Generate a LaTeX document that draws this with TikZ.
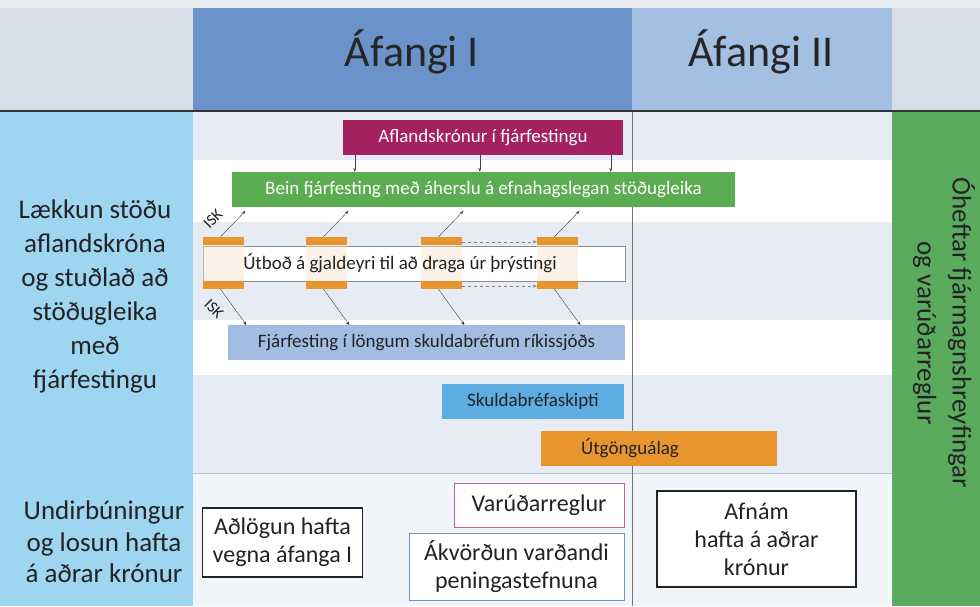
\documentclass[tikz,border=0pt]{standalone}
\usepackage{fontspec}
\setmainfont{Carlito}
\usetikzlibrary{arrows.meta, calc}
\definecolor{headblue}{RGB}{107,146,201}
\definecolor{headlight}{RGB}{163,191,226}
\definecolor{sidegray}{RGB}{216,222,233}
\definecolor{topgray}{RGB}{232,236,240}
\definecolor{skyblue}{RGB}{158,213,241}
\definecolor{sidegreen}{RGB}{90,171,94}
\definecolor{bandgray}{RGB}{231,235,243}
\definecolor{bottomgray}{RGB}{241,244,248}
\definecolor{linegray}{RGB}{180,192,218}
\definecolor{plum}{RGB}{163,33,95}
\definecolor{leafgreen}{RGB}{92,173,82}
\definecolor{paleblue}{RGB}{162,189,225}
\definecolor{swapblue}{RGB}{93,173,226}
\definecolor{ochre}{RGB}{232,149,46}
\definecolor{inkgray}{RGB}{35,35,35}

\begin{document}
\begin{tikzpicture}[x=1pt, y=-1pt,
    bar/.style={minimum height=35pt, inner sep=0pt, font=\fontsize{19}{22}\selectfont},
    bartext/.style={font=\fontsize{19}{22}\selectfont, text=inkgray},
    plainbox/.style={draw=inkgray, line width=1.2pt, fill=white, align=center, inner sep=0pt, text=inkgray, font=\fontsize{24}{28}\selectfont},
    side/.style={align=center, text=inkgray, font=\fontsize{27}{34}\selectfont},
    slot/.style={minimum width=41pt, minimum height=52pt, inner sep=0pt, fill=ochre!25, fill opacity=0.45},
    isk/.style={inner sep=0pt, text=inkgray, font=\fontsize{16}{18}\selectfont},
    arr/.style={-{Stealth[length=4pt,width=3pt]}, black!75, thin}]
    \useasboundingbox (0,0) rectangle (980,606);

    % Background and header row
    \fill[topgray] (0,0) rectangle (980,606);
    \fill[sidegray] (0,8) rectangle (193,110);
    \fill[headblue] (193,8) rectangle (632,110);
    \fill[headlight] (632,8) rectangle (892,110);
    \fill[sidegray] (892,8) rectangle (980,110);

    % Side columns
    \fill[skyblue] (0,112) rectangle (193,606);
    \fill[sidegreen] (892,112) rectangle (980,606);

    % Bands
    \fill[bandgray] (193,112) rectangle (892,473);
    \fill[white] (193,160) rectangle (892,222);
    \fill[white] (193,320) rectangle (892,375);
    \fill[bottomgray] (193,473) rectangle (892,606);
    \draw[linegray, thick] (193,473) -- (892,473);
    \draw[line width=2pt, black!80] (0,111) -- (980,111);
    \draw[black!55] (632,112) -- (632,606);

    % Phase titles
    \node[text=black!85, font=\fontsize{44}{50}\selectfont] (phaseone) at (412,52) {Áfangi I};
    \node[text=black!85, font=\fontsize{44}{50}\selectfont] (phasetwo) at (761,52) {Áfangi II};

    % Side labels
    \node[side] (goal) at (95,296) {Lækkun stöðu\\aflandskróna\\og stuðlað að\\stöðugleika\\með\\fjárfestingu};
    \node[side, font=\fontsize{27}{31.5}\selectfont] (prep) at (104,542) {Undirbúningur\\og losun hafta\\á aðrar krónur};
    \node[side, rotate=-90, font=\fontsize{27}{35}\selectfont] (open) at (944,333) {Óheftar fjármagnshreyfingar\\og varúðarreglur};

    % Offshore kronur and direct investment
    \node[bar, fill=plum, text=white, minimum width=280pt] (afl) at (483,137.5) {Aflandskrónur í fjárfestingu};
    \node[bar, fill=leafgreen, text=white, minimum width=503pt] (bein) at (483.5,189.5) {Bein fjárfesting með áherslu á efnahagslegan stöðugleika};
    \foreach \d in {12,137,268}
        \draw[arr] ([xshift=\d]afl.south west) -- ([xshift=\d]afl.south west |- bein.north);

    % Auctions
    \node[bar, draw=black!45, fill=white, minimum width=422pt] (utbod) at (414,263.5) {};
    \foreach \x [count=\i] in {223.5,326.5,441.5,557.5} {
        \node[slot] (s\i) at (\x,263) {};
        \fill[ochre] (s\i.north west) rectangle ++(41,8);
        \fill[ochre] (s\i.south west) rectangle ++(41,-8);
    }
    \node[bartext] (utbodtext) at (400,263.5) {Útboð á gjaldeyri til að draga úr þrýstingi};
    \foreach \i in {1,...,4} {
        \draw[arr] ([xshift=-3pt]s\i.north) -- ++(25,-26);
        \draw[arr] ([xshift=-3pt]s\i.south) -- ++(26,36);
    }
    \draw[arr, dashed, black!50] ([yshift=-5pt]s3.north east) -- ([yshift=-5pt]s4.north west);
    \draw[arr, dashed, black!50] ([yshift=3pt]s3.south east) -- ([yshift=3pt]s4.south west);
    \node[isk, rotate=45] (iskup) at (213,219) {ISK};
    \node[isk, rotate=-45] (iskdown) at (214,309) {ISK};

    % Bonds and exit levy
    \node[bar, fill=paleblue, text=inkgray, minimum width=397pt] (fjarf) at (426.5,342.5) {Fjárfesting í löngum skuldabréfum ríkissjóðs};
    \node[bar, fill=swapblue, text=inkgray, minimum width=182pt] (skuld) at (533,401.5) {Skuldabréfaskipti};
    \node[bar, fill=ochre, minimum width=236pt] (utg) at (659,448.5) {};
    \node[bartext] (utgtext) at (630,448.5) {Útgönguálag};

    % Preparation boxes
    \node[plainbox, minimum width=160pt, minimum height=69pt] (adl) at (282.5,542.5) {Aðlögun hafta\\vegna áfanga I};
    \node[plainbox, draw=plum!70, line width=0.8pt, minimum width=170pt, minimum height=44pt] (varud) at (539,505) {Varúðarreglur};
    \node[plainbox, draw=headblue, line width=0.8pt, minimum width=215pt, minimum height=67pt] (akv) at (516.5,566.5) {Ákvörðun varðandi\\peningastefnuna};
    \node[plainbox, minimum width=199pt, minimum height=96pt] (afn) at (756.5,539) {Afnám\\hafta á aðrar\\krónur};
\end{tikzpicture}
\end{document}
